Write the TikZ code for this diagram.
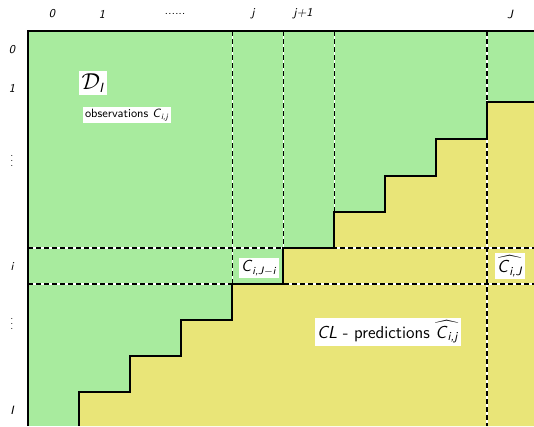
\documentclass[tikz,border=0pt]{standalone}
\usepackage{amsmath}
\definecolor{obsgreen}{RGB}{168,235,158}
\definecolor{predyellow}{RGB}{233,229,120}
\newcommand\sfi[1]{\textsf{\textit{#1}}}
\begin{document}
\begin{tikzpicture}[x=0.75pt,y=-0.75pt,
  tick/.style={font=\sffamily\itshape\fontsize{9}{11}\selectfont, inner sep=1pt},
  lbl/.style={fill=white, inner sep=2pt, font=\sffamily},
  dashwhite/.style={white, line width=1.1pt},
  dashblack/.style={black, line width=1.1pt, dash pattern=on 3.5pt off 2.5pt},
  stair/.style={black, line width=1pt}]
\useasboundingbox (0,0) rectangle (534,426);
% regions
\fill[obsgreen] (28,31) rectangle (534,426);
\fill[predyellow] (79,426) -- (79,392) -- (130,392) -- (130,356) -- (181,356) -- (181,320)
  -- (232,320) -- (232,284) -- (283,284) -- (283,248) -- (334,248) -- (334,212)
  -- (385,212) -- (385,176) -- (436,176) -- (436,139) -- (487,139) -- (487,102)
  -- (534,102) -- (534,426) -- cycle;
% dashed grid lines
\coordinate (vjt) at (232,31);   \coordinate (vjb) at (232,284);
\coordinate (vkt) at (283,31);   \coordinate (vkb) at (283,248);
\coordinate (vlt) at (334,31);   \coordinate (vlb) at (334,212);
\coordinate (vJt) at (487,31);   \coordinate (vJb) at (487,426);
\coordinate (hal) at (28,248);   \coordinate (har) at (534,248);
\coordinate (hbl) at (28,284);   \coordinate (hbr) at (534,284);
\foreach \a/\b/\w in {vjt/vjb/0.6pt, vkt/vkb/0.6pt, vlt/vlb/0.6pt, vJt/vJb/1.1pt, hal/har/1.1pt, hbl/hbr/1.1pt}{
  \draw[dashwhite, line width=\w] (\a) -- (\b);
  \draw[dashblack, line width=\w] (\a) -- (\b);
}
% staircase
\draw[stair] (79,426) -- (79,392) -- (130,392) -- (130,356) -- (181,356) -- (181,320)
  -- (232,320) -- (232,284) -- (283,284) -- (283,248) -- (334,248) -- (334,212)
  -- (385,212) -- (385,176) -- (436,176) -- (436,139) -- (487,139) -- (487,102)
  -- (534,102);
% frame
\draw[black, line width=1.2pt] (28,426) -- (28,31) -- (534,31);
% column labels
\node[tick] (c0) at (52,14) {0};
\node[tick] (c1) at (102,14) {1};
\node[tick] (cd) at (175,14) {......};
\node[tick] (cj) at (253,14) {j};
\node[tick] (cj1) at (303,14) {j+1};
\node[tick] (cJ) at (510,14) {J};
% row labels
\node[tick] (r0) at (12,50) {0};
\node[tick] (r1) at (12,88) {1};
\node[tick, font=\scriptsize] (rd1) at (12,157) {$\vdots$};
\node[tick] (ri) at (12,267) {i};
\node[tick, font=\scriptsize] (rd2) at (12,320) {$\vdots$};
\node[tick] (rI) at (12,410) {I};
% labels
\node[lbl, font=\LARGE] (DI) at (93,83) {$\mathcal{D}_{\mbox{\normalsize\sfi{I}}}$};
\node[lbl, font=\sffamily\small, inner sep=1.5pt] (obs) at (127,115) {observations \sfi{C}\textsubscript{\sfi{i,j}}};
\node[lbl, font=\sffamily\large, inner sep=1.5pt] (cij) at (259,268) {\sfi{C}\textsubscript{\sfi{i,J}$-$\sfi{i}}};
\node[lbl, font=\sffamily\fontsize{13}{15}\selectfont, inner sep=1.5pt] (chat) at (510,266) {$\widehat{\mbox{\sfi{C}\textsubscript{\sfi{i,J}}}}$};
\node[lbl, font=\sffamily\fontsize{13}{15}\selectfont, inner sep=2pt] (cl) at (388,332) {\sfi{CL} - predictions $\widehat{\mbox{\sfi{C}\textsubscript{\sfi{i,j}}}}$};
\end{tikzpicture}
\end{document}
